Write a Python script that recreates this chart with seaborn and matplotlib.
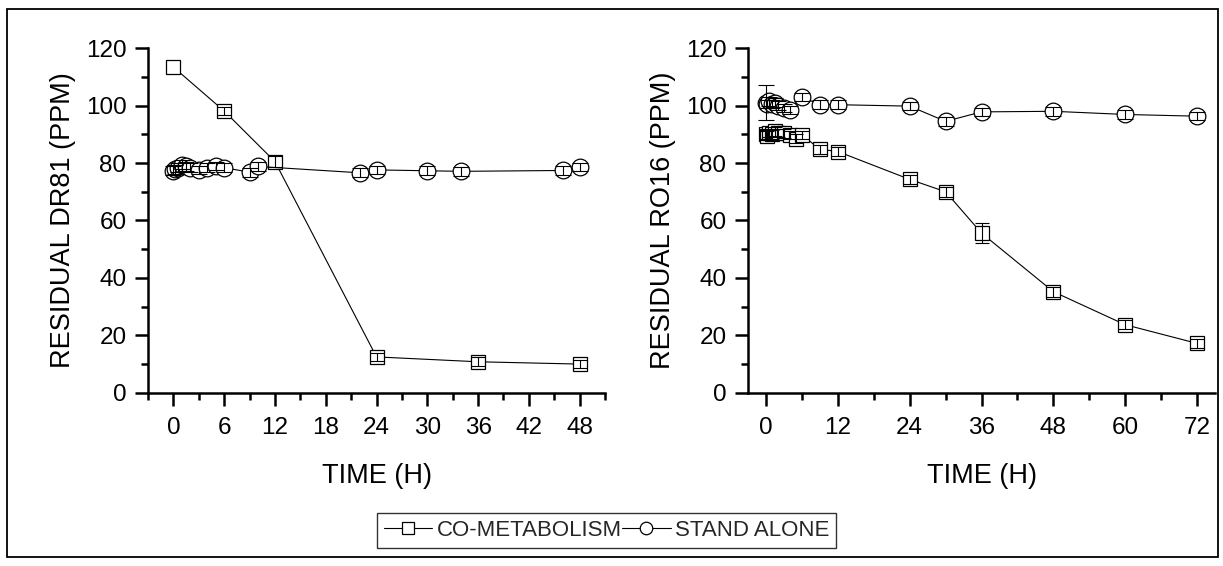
import numpy as np
import pandas as pd
import matplotlib
matplotlib.use("Agg")
import matplotlib.pyplot as plt
from matplotlib.patches import Rectangle
from matplotlib.lines import Line2D
from matplotlib.ticker import MultipleLocator
import seaborn as sns

# DR81 decolourisation (left panel)
dr81_co_time = [0, 6, 12, 24, 36, 48]
dr81_co_ppm = [113.4, 98.1, 80.5, 12.5, 10.8, 10.0]
dr81_co_err = [0.0, 1.5, 1.8, 1.5, 1.5, 1.5]

dr81_sa_time = [0, 0.25, 0.5, 1, 1.5, 2, 3, 4, 5, 6, 9, 10, 22, 24, 30, 34, 46, 48]
dr81_sa_ppm = [77.3, 77.8, 78.4, 79.4, 78.8, 78.4, 77.5, 78.4, 78.9, 78.4,
               76.8, 78.8, 76.6, 77.6, 77.3, 77.1, 77.4, 78.6]
dr81_sa_err = [1.5] * len(dr81_sa_time)

# RO16 decolourisation (right panel)
ro16_co_time = [0, 0.25, 0.5, 1, 1.5, 2, 3, 4, 5, 6, 9, 12, 24, 30, 36, 48, 60, 72]
ro16_co_ppm = [90.0, 89.5, 90.5, 90.0, 91.0, 90.5, 90.3, 89.8, 88.5, 89.8,
               84.8, 84.0, 74.3, 70.0, 55.6, 35.2, 23.7, 17.2]
ro16_co_err = [1.5, 1.5, 1.5, 1.5, 1.5, 1.5, 1.5, 1.5, 1.5, 1.5,
               1.5, 1.5, 1.5, 1.8, 3.5, 1.8, 1.5, 1.5]

ro16_sa_time = [0, 0.25, 0.5, 1, 1.5, 2, 3, 4, 6, 9, 12, 24, 30, 36, 48, 60, 72]
ro16_sa_ppm = [101.0, 100.5, 101.5, 100.5, 101.0, 100.0, 99.2, 98.5, 103.0,
               100.3, 100.3, 99.8, 94.5, 97.8, 98.0, 96.9, 96.3]
ro16_sa_err = [6.0] + [1.5] * (len(ro16_sa_time) - 1)

series_labels = ["CO-METABOLISM", "STAND ALONE"]
x_label = "TIME (H)"
y_labels = ["RESIDUAL DR81 (PPM)", "RESIDUAL RO16 (PPM)"]

sns.set_theme(style="ticks")
plt.rcParams["font.family"] = ["Liberation Sans", "DejaVu Sans"]

TICK_FS = 17.5
LABEL_FS = 19.5
LEG_FS = 16

fig = plt.figure(figsize=(12.23, 5.66), dpi=100)
ax_l = fig.add_axes([0.121, 0.306, 0.3737, 0.609])
ax_r = fig.add_axes([0.6116, 0.306, 0.3819, 0.609])

styles = {
    "s": dict(marker="s", markersize=10.5),
    "o": dict(marker="o", markersize=12),
}


def draw_series(ax, t, y, err, mk, order):
    df = pd.DataFrame({"t": t, "y": y})
    st = styles[mk]
    sns.lineplot(data=df, x="t", y="y", ax=ax, sort=False, estimator=None,
                 color="black", linewidth=0.8, marker=st["marker"],
                 markersize=st["markersize"], markerfacecolor="white",
                 markeredgecolor="black", markeredgewidth=0.9,
                 zorder=order, legend=False)
    t = np.asarray(t, float)
    y = np.asarray(y, float)
    e = np.asarray(err, float)
    keep = e > 0
    ax.errorbar(t[keep], y[keep], yerr=e[keep], fmt="none", ecolor="black",
                elinewidth=0.8, capsize=st["markersize"] / 2, capthick=0.8,
                zorder=order + 0.5)


draw_series(ax_l, dr81_co_time, dr81_co_ppm, dr81_co_err, "s", 3)
draw_series(ax_l, dr81_sa_time, dr81_sa_ppm, dr81_sa_err, "o", 4)
draw_series(ax_r, ro16_co_time, ro16_co_ppm, ro16_co_err, "s", 3)
draw_series(ax_r, ro16_sa_time, ro16_sa_ppm, ro16_sa_err, "o", 4)

for ax, xmax, major, minor, ylab in [
    (ax_l, 51, 6, 3, y_labels[0]),
    (ax_r, 75, 12, 6, y_labels[1]),
]:
    ax.set_xlim(-3, xmax)
    ax.set_ylim(0, 120)
    ax.xaxis.set_major_locator(MultipleLocator(major))
    ax.xaxis.set_minor_locator(MultipleLocator(minor))
    ax.yaxis.set_major_locator(MultipleLocator(20))
    ax.yaxis.set_minor_locator(MultipleLocator(10))
    ax.set_xticks(np.arange(0, xmax, major))
    for s in ("top", "right"):
        ax.spines[s].set_visible(False)
    for s in ("left", "bottom"):
        ax.spines[s].set_linewidth(1.8)
        ax.spines[s].set_color("black")
    ax.tick_params(which="major", length=9.5, width=1.8, color="black",
                   labelsize=TICK_FS, labelcolor="black")
    ax.tick_params(axis="x", which="major", pad=8)
    ax.tick_params(axis="y", which="major", pad=6)
    ax.tick_params(which="minor", length=5, width=1.8, color="black")
    ax.set_xlabel(x_label, fontsize=LABEL_FS, labelpad=17, color="black")
    ax.set_ylabel(ylab, fontsize=LABEL_FS, labelpad=7, color="black")
    ax.set_facecolor("white")

handles = [
    Line2D([], [], color="black", linewidth=0.8, marker="s", markersize=9,
           markerfacecolor="white", markeredgecolor="black", markeredgewidth=0.9),
    Line2D([], [], color="black", linewidth=0.8, marker="o", markersize=9,
           markerfacecolor="white", markeredgecolor="black", markeredgewidth=0.9),
]
leg = fig.legend(handles, series_labels, loc="center", bbox_to_anchor=(0.496, 0.0625),
                 ncol=2, fontsize=LEG_FS, frameon=True, fancybox=False,
                 handlelength=2.2, handletextpad=0.2, columnspacing=0.0,
                 borderpad=0.3, borderaxespad=0)
leg.get_frame().set_edgecolor("black")
leg.get_frame().set_linewidth(1.0)

# outer frame around the whole figure
fig.patches.append(Rectangle((7 / 1223, 1 - 557 / 566), 1211 / 1223, 548 / 566,
                             transform=fig.transFigure, fill=False,
                             edgecolor="black", linewidth=1.3))

fig.savefig("out.png", dpi=100, facecolor="white")
